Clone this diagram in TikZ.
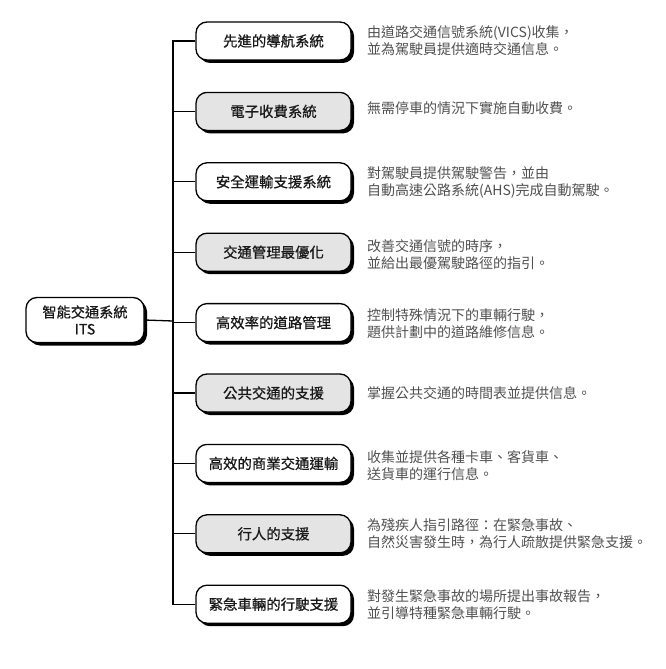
\documentclass[tikz,border=0pt]{standalone}
\usepackage{fontspec}
\setmainfont{Noto Sans CJK TC}
\newfontfamily\boxfont[FakeBold=0.6]{Noto Sans CJK TC}
\usetikzlibrary{shadows}
\definecolor{boxgray}{HTML}{E4E4E4}
\definecolor{desctext}{HTML}{505050}
\begin{document}
\begin{tikzpicture}[x=1pt,y=-1pt,
  box/.style={draw=black, line width=1.3pt, rounded corners=11pt, fill=white,
    minimum width=155pt, minimum height=38pt, inner sep=0pt,
    font=\boxfont\fontsize{14.4pt}{17pt}\selectfont, text=black!90,
    drop shadow={shadow xshift=3pt, shadow yshift=-3pt, fill=black, opacity=1}},
  graybox/.style={box, fill=boxgray},
  rootbox/.style={box, minimum width=118pt, minimum height=45pt, align=center,
    font=\boxfont\fontsize{14.2pt}{17pt}\selectfont},
  desc/.style={anchor=west, align=left, inner sep=0pt,
    font=\fontsize{14pt}{17pt}\selectfont, text=desctext},
  conn/.style={line width=1.3pt}]
\useasboundingbox (0,0) rectangle (666,669);

\node[rootbox] (root) at (85,320) {智能交通系統\\ITS};
\coordinate (t) at (173,321);

\node[box]     (n1) at (273.5,41)    {先進的導航系統};
\node[graybox] (n2) at (273.5,111.4) {電子收費系統};
\node[box]     (n3) at (273.5,181.8) {安全運輸支援系統};
\node[graybox] (n4) at (273.5,252.2) {交通管理最優化};
\node[box]     (n5) at (273.5,322.6) {高效率的道路管理};
\node[graybox] (n6) at (273.5,393)   {公共交通的支援};
\node[box]     (n7) at (273.5,463.4) {高效的商業交通運輸};
\node[graybox] (n8) at (273.5,533.8) {行人的支援};
\node[box]     (n9) at (273.5,604.2) {緊急車輛的行駛支援};

\draw[conn] (root.east) -- (t);
\foreach \k in {1,...,9} { \draw[conn] (t) |- (n\k.west); }

\node[desc] (d1) at (367,41)    {由道路交通信號系統(VICS)收集，\\並為駕駛員提供適時交通信息。};
\node[desc] (d2) at (367,108.5) {無需停車的情況下實施自動收費。};
\node[desc] (d3) at (367,182.5) {對駕駛員提供駕駛警告，並由\\自動高速公路系統(AHS)完成自動駕駛。};
\node[desc] (d4) at (367,255)   {改善交通信號的時序，\\並給出最優駕駛路徑的指引。};
\node[desc] (d5) at (367,323.5) {控制特殊情況下的車輛行駛，\\題供計劃中的道路維修信息。};
\node[desc] (d6) at (367,393)   {掌握公共交通的時間表並提供信息。};
\node[desc] (d7) at (367,465.5) {收集並提供各種卡車、客貨車、\\送貨車的運行信息。};
\node[desc] (d8) at (367,533.5) {為殘疾人指引路徑：在緊急事故、\\自然災害發生時，為行人疏散提供緊急支援。};
\node[desc] (d9) at (367,605)   {對發生緊急事故的場所提出事故報告，\\並引導特種緊急車輛行駛。};
\end{tikzpicture}
\end{document}
